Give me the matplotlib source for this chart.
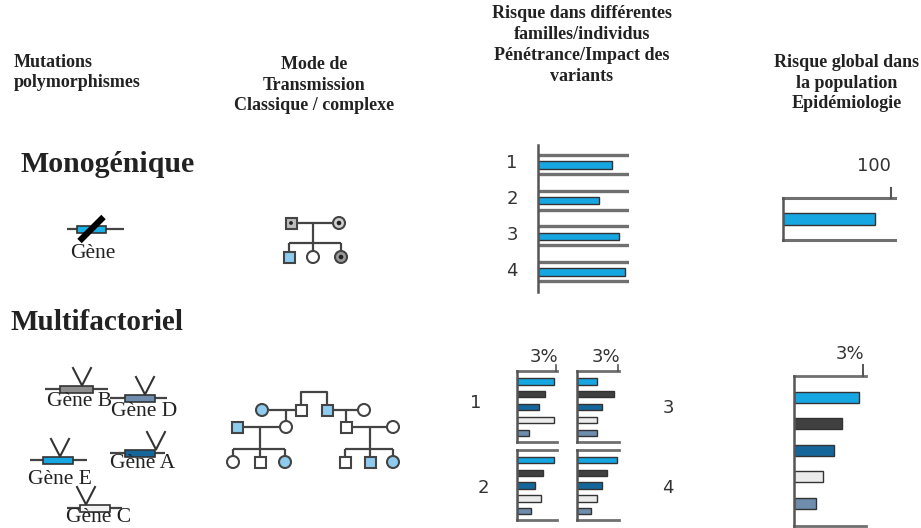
import matplotlib
matplotlib.use("Agg")
import matplotlib.pyplot as plt
from matplotlib.patches import Rectangle, Circle

# ---------------- data ----------------
mono_families = ["1", "2", "3", "4"]
mono_penetrance = [81, 67, 89, 96]          # % (scale 0-100)
mono_global = [85]                           # % (scale 0-100)

gene_order = ["E", "B", "A", "C", "D"]       # bar order (top -> bottom)
multi_fam1 = [2.85, 2.1, 1.7, 2.85, 0.9]     # % (scale 0-3)
multi_fam2 = [2.85, 2.0, 1.35, 1.8, 1.05]
multi_fam3 = [1.46, 2.7, 1.83, 1.46, 1.46]
multi_fam4 = [2.93, 2.2, 1.83, 1.46, 1.0]
multi_global = [2.83, 2.09, 1.74, 1.26, 0.96]

gene_colors = {"E": "#16a6e2", "B": "#404040", "A": "#15679b",
               "C": "#ebebeb", "D": "#6e8cab"}
gene_icon_colors = {"E": "#16a6e2", "B": "#8e8e8e", "A": "#15679b",
                    "C": "#f2f2f2", "D": "#6e8cab"}

headers = ["Mutations\npolymorphismes",
           "Mode de\nTransmission\nClassique / complexe",
           "Risque dans différentes\nfamilles/individus\nPénétrance/Impact des\nvariants",
           "Risque global dans\nla population\nEpidémiologie"]

# ---------------- figure ----------------
W, H = 921, 528
fig = plt.figure(figsize=(W / 100, H / 100), dpi=100)
fig.patch.set_facecolor("white")
ax = fig.add_axes([0, 0, 1, 1])
ax.set_xlim(0, W)
ax.set_ylim(H, 0)
ax.axis("off")

SERIF = ["Liberation Serif", "DejaVu Serif"]
SANS = ["DejaVu Sans"]
TXT = "#222222"
LINE = "#444444"
PBLUE = "#8ecbef"

# headers
hstyle = dict(family=SERIF, fontweight="bold", fontsize=13, color=TXT,
              linespacing=1.3, va="center")
ax.text(14, 72.5, headers[0], ha="left", **hstyle)
ax.text(314, 85, headers[1], ha="center", multialignment="center", **hstyle)
ax.text(582, 45, headers[2], ha="center", multialignment="center", **hstyle)
ax.text(847, 83, headers[3], ha="center", multialignment="center", **hstyle)

# section titles
ax.text(20, 165, "Monogénique", family=SERIF, fontweight="bold", fontsize=21.5,
        color=TXT, ha="left", va="center")
ax.text(10, 323, "Multifactoriel", family=SERIF, fontweight="bold",
        fontsize=21, color=TXT, ha="left", va="center")

# ---------------- gene icons ----------------
def gene_icon(xl, xr, y, bx0, bx1, color, vx=None, label=None, lx=0, ly=0,
              slash=False):
    ax.plot([xl, xr], [y, y], color=LINE, lw=1.6, solid_capstyle="butt", zorder=2)
    ax.add_patch(Rectangle((bx0, y - 3.5), bx1 - bx0, 7, fc=color, ec="#333333",
                           lw=1.2, zorder=3))
    if vx is not None:
        ax.plot([vx - 9, vx, vx + 9], [y - 21, y - 3.5, y - 21], color="#333333",
                lw=1.5, zorder=4)
    if slash:
        ax.plot([(bx0 + bx1) / 2 - 12, (bx0 + bx1) / 2 + 12], [y + 12, y - 12],
                color="black", lw=4.5, solid_capstyle="butt", zorder=5)
    if label:
        ax.text(lx, ly, label, family=SERIF, fontsize=15.5, color=TXT,
                ha="center", va="center", zorder=6)

gene_icon(67, 124, 229, 77, 106, "#1ab0e8", label="Gène", lx=93, ly=253,
          slash=True)
gene_icon(45, 108, 389, 60, 93, gene_icon_colors["B"], vx=82,
          label="Gène B", lx=79, ly=402)
gene_icon(110, 167, 398, 125, 155, gene_icon_colors["D"], vx=145,
          label="Gène D", lx=144, ly=412)
gene_icon(30, 87, 460, 43, 73, gene_icon_colors["E"], vx=60,
          label="Gène E", lx=60, ly=480)
gene_icon(110, 165, 453, 125, 155, gene_icon_colors["A"], vx=156,
          label="Gène A", lx=143, ly=464)
gene_icon(67, 122, 508, 80, 110, gene_icon_colors["C"], vx=86,
          label="Gène C", lx=99, ly=518)

# ---------------- pedigrees ----------------
def sq(x, y, fc="white", s=11, dot=False):
    ax.add_patch(Rectangle((x - s / 2, y - s / 2), s, s, fc=fc, ec=LINE, lw=1.5,
                           zorder=4))
    if dot:
        ax.add_patch(Circle((x, y), 1.9, fc="#222222", ec="none", zorder=5))

def ci(x, y, fc="white", r=6, dot=False):
    ax.add_patch(Circle((x, y), r, fc=fc, ec=LINE, lw=1.5, zorder=4))
    if dot:
        ax.add_patch(Circle((x, y), 2.3, fc="#222222", ec="none", zorder=5))

def ln(xs, ys):
    ax.plot(xs, ys, color=LINE, lw=1.6, zorder=3, solid_capstyle="butt")

# monogenic pedigree
ln([291, 339], [223, 223])
ln([313, 313], [223, 243])
ln([289, 341], [243, 243])
for cx in (289, 313, 341):
    ln([cx, cx], [243, 257])
sq(291, 223, fc="#bdbdbd", dot=True)
ci(339, 223, fc="#d0d0d0", dot=True)
sq(289, 257, fc=PBLUE)
ci(313, 257)
ci(341, 257, fc="#9a9a9a", dot=True)

# multifactorial pedigree
ln([262, 301], [410, 410])
ln([327, 364], [410, 410])
ln([301, 301, 327, 327], [405, 392, 392, 405])
ln([286, 286], [410, 427])
ln([346, 346], [410, 427])
ln([237, 283], [427, 427])
ln([346, 393], [427, 427])
ln([260, 260], [427, 449])
ln([370, 370], [427, 449])
ln([233, 285], [449, 449])
ln([345, 393], [449, 449])
for cx in (233, 260, 285, 345, 370, 393):
    ln([cx, cx], [449, 460])
ci(262, 410, fc=PBLUE)
sq(301, 410)
sq(327, 410, fc=PBLUE)
ci(364, 410)
sq(237, 427, fc=PBLUE)
ci(286, 427)
sq(346, 427)
ci(393, 427)
ci(233, 462)
sq(260, 462)
ci(285, 462, fc=PBLUE)
sq(345, 462)
sq(370, 462, fc=PBLUE)
ci(393, 462, fc=PBLUE)

# ---------------- bar charts ----------------
def px_axes(x0, y0, x1, y1):
    a = fig.add_axes([x0 / W, 1 - y1 / H, (x1 - x0) / W, (y1 - y0) / H])
    a.patch.set_alpha(0)
    for s in ("top", "right", "bottom"):
        a.spines[s].set_visible(False)
    a.spines["left"].set_color("#555555")
    a.spines["left"].set_linewidth(1.8)
    a.set_xticks([])
    a.set_yticks([])
    return a

GRAY = "#707070"

# monogenic family risk
am = px_axes(538, 145, 629, 292)
am.set_xlim(0, 100)
ypos = list(range(len(mono_families)))
am.set_ylim(len(mono_families) - 1 + 0.56, -0.56)
am.barh(ypos, mono_penetrance, height=0.21, color="#16a6e2",
        edgecolor="#333333", lw=1)
for i in ypos:
    am.axhline(i - 0.28, color=GRAY, lw=2.4)
    am.axhline(i + 0.25, color=GRAY, lw=2.4)
for i, lab in enumerate(mono_families):
    ax.text(512, 163 + i * 36, lab, family=SANS, fontsize=13, color="#333333",
            ha="center", va="center")

# monogenic global risk
ag = px_axes(783, 198, 895, 240)
ag.set_xlim(0, 100 * (895 - 783) / (891 - 783))
ag.set_ylim(0.5, -0.5)
ag.barh([0], mono_global, height=0.3, color="#16a6e2", edgecolor="#333333",
        lw=1)
ag.axhline(-0.5, color=GRAY, lw=2.2, clip_on=False)
ag.axhline(0.5, color=GRAY, lw=2.2, clip_on=False)
ag.plot([100, 100], [-0.5, -0.75], color="#555555", lw=1.5, clip_on=False)
ag.text(100, -1.05, "100", family=SANS, fontsize=13, color="#333333",
        ha="right", va="bottom")

colors = [gene_colors[g] for g in gene_order]


def small_chart(x0, y0, x1, y1, vals, top_tick):
    a = px_axes(x0, y0, x1, y1)
    a.set_xlim(0, 3.05)
    a.set_ylim(4.7, -0.8)
    a.barh(range(len(vals)), vals, height=0.5, color=colors,
           edgecolor="#333333", lw=1)
    a.axhline(-0.8, color=GRAY, lw=2.0, clip_on=False)
    a.axhline(4.7, color=GRAY, lw=2.0, clip_on=False)
    if top_tick:
        a.plot([3, 3], [-0.8, -1.3], color="#555555", lw=1.2, clip_on=False)
        a.text(3.15, -1.15, "3%", family=SANS, fontsize=13, color="#333333",
               ha="right", va="bottom")
    return a

small_chart(517, 371, 557, 442, multi_fam1, True)
small_chart(517, 450, 557, 520, multi_fam2, False)
small_chart(577, 371, 619, 442, multi_fam3, True)
small_chart(577, 450, 619, 520, multi_fam4, False)

for lab, (lx, ly) in zip(["1", "2", "3", "4"],
                         [(476, 403), (483, 488), (668, 408), (668, 488)]):
    ax.text(lx, ly, lab, family=SANS, fontsize=13, color="#333333",
            ha="center", va="center")

# multifactorial global risk
amg = px_axes(794, 376, 866, 526)
amg.set_xlim(0, 3 * (866 - 794) / (863 - 794))
amg.set_ylim(4.85, -0.8)
amg.barh(range(len(multi_global)), multi_global, height=0.42, color=colors,
         edgecolor="#333333", lw=1)
amg.axhline(-0.8, color=GRAY, lw=2.0, clip_on=False)
amg.axhline(4.85, color=GRAY, lw=2.0, clip_on=False)
amg.plot([3, 3], [-0.8, -1.2], color="#555555", lw=1.4, clip_on=False)
amg.text(3.05, -1.3, "3%", family=SANS, fontsize=13, color="#333333",
         ha="right", va="bottom")

fig.savefig("out.png", dpi=100, facecolor="white")
